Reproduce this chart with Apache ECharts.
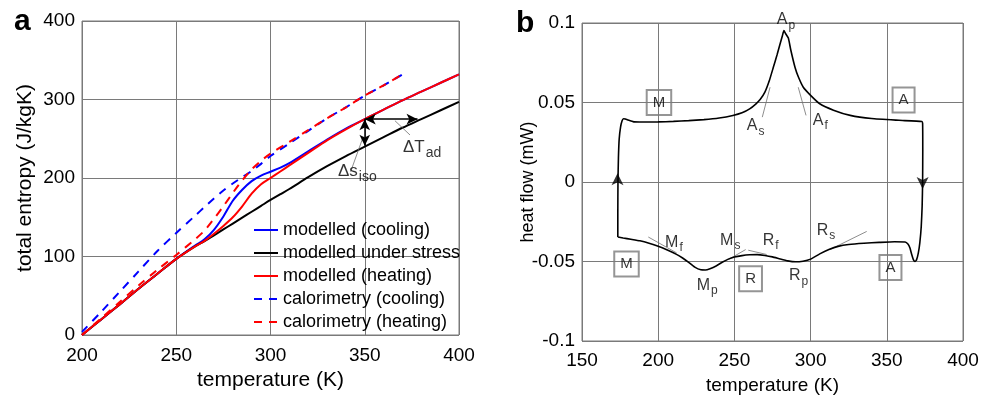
<!DOCTYPE html>
<html>
<head>
<meta charset="utf-8">
<script src="https://cdn.jsdelivr.net/npm/echarts@6/dist/echarts.min.js"></script>
<style>
html, body { margin: 0; padding: 0; background: #fff; }
#chart { width: 990px; height: 396px; }
</style>
</head>
<body>
<div id="chart"></div>
<script>
// ---------- panel a: total entropy (J/kgK) vs temperature (K) ----------
const tempModel = [200, 210, 220, 230, 240, 250, 260, 265, 270, 275, 280, 285, 290, 295, 300, 305, 310, 320, 330, 340, 350, 360, 370, 380, 390, 400];
const entropyModelCooling = [0, 19.5, 39, 59, 78, 97, 114, 122, 134, 151, 171, 185, 196, 203, 208, 213, 219, 234, 249, 263, 275, 287, 299, 310, 321, 332];
const entropyModelStress  = [0, 19.5, 39, 59, 78, 97, 113, 119.5, 127, 134.5, 142, 149.5, 157, 164.5, 172, 179, 186, 201, 215, 228, 240, 252, 264, 275, 286, 297];
const entropyModelHeating = [0, 19.5, 39, 59, 78, 97, 113, 120, 129, 139, 150, 164, 180, 192, 200, 208, 216, 232, 248, 262, 275, 287, 299, 310, 321, 332];

const tempCalorimetry = [200, 210, 220, 230, 240, 250, 260, 265, 270, 275, 280, 285, 290, 295, 300, 310, 320, 330, 340, 350, 360, 370];
const entropyCalCooling = [4, 29, 55, 81, 107, 130, 152, 163, 174, 184, 193, 201, 209, 218, 228, 244, 260, 276, 290, 305, 318, 332];
const entropyCalHeating = [0, 21, 42, 63, 83, 102, 122, 133, 148, 164, 181, 197, 211, 222, 231, 246, 261, 276, 290, 305, 318, 332];

const legendNames = ['modelled (cooling)', 'modelled under stress', 'modelled (heating)', 'calorimetry (cooling)', 'calorimetry (heating)'];

// isothermal entropy change and adiabatic temperature change at 350 K
const arrowDs = [[350, 275], [350, 241]];
const arrowDT = [[350, 275], [378, 275]];
const leaderDs = [[342.5, 208], [349.2, 252.6]];
const leaderDT = [[366, 273], [374, 254.8]];
const labelsA = [
  { pos: [335.8, 209], main: 'Δs', sub: 'iso' },
  { pos: [370.3, 239.5], main: 'ΔT', sub: 'ad' }
];

// ---------- panel b: DSC heat flow (mW) vs temperature (K) ----------
const loopTemp = [
  173.5, 173.5, 173.6, 173.9, 174.4, 175.3, 176.3, 177.2, 178.5, 180, 184, 190, 200, 210, 220, 230, 240, 249, 255, 260,
  264, 267, 270, 273, 275.5, 278, 280, 281.5, 282.5, 283.5, 285.4, 287, 289.8, 292, 295.2, 300, 306, 315, 326, 340,
  358, 373, 373.5, 373.6, 373.5, 373.2, 372.6, 371.7, 370.7, 369.5, 368.5, 367.5, 366.3, 365.2, 364, 362, 355, 345, 335, 325,
  318, 312, 306, 300, 295, 290, 285, 280, 275, 270, 265, 260, 255, 250, 246, 242, 238, 234, 231, 228,
  224, 220, 216, 212, 206, 200, 194, 188, 182, 177, 173.5
];
const loopHeatFlow = [
  -0.0346, -0.02, 0, 0.015, 0.027, 0.0345, 0.0385, 0.0398, 0.0396, 0.0390, 0.0378, 0.0377, 0.0378, 0.0381, 0.0386, 0.0392, 0.0402, 0.0418, 0.0435, 0.046,
  0.049, 0.052, 0.0565, 0.064, 0.072, 0.080, 0.087, 0.092, 0.0952, 0.0935, 0.0905, 0.083, 0.072, 0.066, 0.0596, 0.0545, 0.0492, 0.0452, 0.0419, 0.0399,
  0.0388, 0.0380, 0.0370, 0.02, 0, -0.015, -0.028, -0.038, -0.0446, -0.0490, -0.0500, -0.0490, -0.0455, -0.0415, -0.0392, -0.0377, -0.0376, -0.0380, -0.0385, -0.0393,
  -0.0405, -0.0425, -0.0452, -0.0485, -0.0498, -0.0502, -0.0496, -0.0484, -0.0471, -0.0462, -0.0457, -0.0458, -0.0463, -0.0472, -0.0485, -0.0505, -0.0528, -0.0545, -0.0553, -0.0552,
  -0.0535, -0.0505, -0.0478, -0.0455, -0.0428, -0.0404, -0.0385, -0.0370, -0.0360, -0.0352, -0.0346
];

// onset / finish / peak construction lines
const tangents = [
  [[268.3, 0.0408], [273.4, 0.0596]],   // A_s
  [[297.0, 0.0419], [291.9, 0.0596]],   // A_f
  [[193.5, -0.0346], [212.1, -0.0446]], // M_f
  [[246.0, -0.0488], [257.4, -0.0425]], // M_s
  [[259.1, -0.0429], [271.2, -0.0456]], // R_f
  [[312.7, -0.0425], [336.8, -0.0311]]  // R_s
];
const labelsB = [
  { pos: [277.8, 0.1019], main: 'A', sub: 'p' },
  { pos: [258.1, 0.0353], main: 'A', sub: 's' },
  { pos: [301.4, 0.0389], main: 'A', sub: 'f' },
  { pos: [204.5, -0.0378], main: 'M', sub: 'f' },
  { pos: [240.6, -0.0369], main: 'M', sub: 's' },
  { pos: [268.6, -0.0369], main: 'R', sub: 'f' },
  { pos: [304.0, -0.0306], main: 'R', sub: 's' },
  { pos: [225.3, -0.0650], main: 'M', sub: 'p' },
  { pos: [285.8, -0.0591], main: 'R', sub: 'p' }
];
const phaseBoxes = [
  { pos: [200.5, 0.0500], text: 'M' },
  { pos: [361.0, 0.0516], text: 'A' },
  { pos: [179.2, -0.0516], text: 'M' },
  { pos: [260.6, -0.0609], text: 'R' },
  { pos: [352.4, -0.0538], text: 'A' }
];
// direction of the temperature scan
const scanArrows = [
  { pos: [173.3, 0.0055], rotate: 0 },
  { pos: [373.5, -0.0044], rotate: 180 }
];

const FONT = '"Liberation Sans", Arial, Helvetica, sans-serif';
const GRIDCOL = '#7a7a7a';

function zip(xs, ys) { return xs.map((x, i) => [x, ys[i]]); }

function subLabelSeries(xi, yi, items, mainSize, subSize) {
  return {
    type: 'scatter', xAxisIndex: xi, yAxisIndex: yi, silent: true, z: 5, clip: false,
    symbol: 'circle', symbolSize: 1, itemStyle: { color: 'rgba(0,0,0,0)' },
    data: items.map(it => ({
      value: it.pos,
      label: { formatter: '{m|' + it.main + '}{s|' + it.sub + '}' }
    })),
    label: {
      show: true, position: 'inside', align: 'left', verticalAlign: 'top',
      offset: [0, -mainSize / 2], color: '#000', fontFamily: FONT,
      rich: {
        m: { fontSize: mainSize, lineHeight: mainSize, verticalAlign: 'top', fontFamily: FONT, color: '#000' },
        s: { fontSize: subSize, lineHeight: subSize, padding: [Math.round(mainSize * 0.7), 0, 0, 1], fontFamily: FONT, color: '#000' }
      }
    }
  };
}

function thinLine(xi, yi, pts, color, width) {
  return {
    type: 'line', xAxisIndex: xi, yAxisIndex: yi, silent: true, symbol: 'none',
    data: pts, lineStyle: { color: color, width: width }, z: 3
  };
}

function axisCommon(fontSize, nameSize, margin) {
  return {
    axisLine: { show: false },
    axisTick: { show: false },
    splitLine: { show: true, lineStyle: { color: GRIDCOL, width: 1 } },
    axisLabel: { color: '#000', fontSize: fontSize, fontFamily: FONT, margin: margin },
    nameMoveOverlap: false,
    nameTextStyle: { color: '#000', fontSize: nameSize, fontFamily: FONT }
  };
}

function entropySeries(name, xs, ys, color, dashed) {
  return {
    name: name, type: 'line', xAxisIndex: 0, yAxisIndex: 0,
    symbol: 'none', showSymbol: false, smooth: 0.3,
    data: zip(xs, ys),
    lineStyle: { color: color, width: 2, type: dashed ? [8, 7] : 'solid' },
    itemStyle: { color: color }
  };
}

const chart = echarts.init(document.getElementById('chart'), null, { renderer: 'canvas' });

const series = [
  entropySeries(legendNames[0], tempModel, entropyModelCooling, '#0000ff', false),
  entropySeries(legendNames[1], tempModel, entropyModelStress, '#000000', false),
  entropySeries(legendNames[2], tempModel, entropyModelHeating, '#ff0000', false),
  entropySeries(legendNames[3], tempCalorimetry, entropyCalCooling, '#0000ff', true),
  entropySeries(legendNames[4], tempCalorimetry, entropyCalHeating, '#ff0000', true),

  // Δs_iso and ΔT_ad double arrows
  { type: 'line', xAxisIndex: 0, yAxisIndex: 0, data: [], silent: true, z: 4,
    markLine: {
      silent: true, animation: false, symbol: ['arrow', 'arrow'], symbolSize: [8, 11],
      label: { show: false }, emphasis: { disabled: true },
      lineStyle: { color: '#000', width: 1.5, type: 'solid' },
      data: [
        [{ coord: arrowDs[0] }, { coord: arrowDs[1] }],
        [{ coord: arrowDT[0] }, { coord: arrowDT[1] }]
      ]
    } },
  thinLine(0, 0, leaderDs, '#707070', 0.8),
  thinLine(0, 0, leaderDT, '#707070', 0.8),
  subLabelSeries(0, 0, labelsA, 17, 14),

  // panel b heat-flow loop
  { type: 'line', xAxisIndex: 1, yAxisIndex: 1, symbol: 'none', smooth: 0.15, silent: true, z: 4,
    data: zip(loopTemp, loopHeatFlow), lineStyle: { color: '#000', width: 1.6 } }
];

tangents.forEach(t => series.push(thinLine(1, 1, t, '#707070', 0.8)));

series.push({
  type: 'scatter', xAxisIndex: 1, yAxisIndex: 1, silent: true, z: 6,
  symbol: 'arrow', symbolSize: [9, 12], itemStyle: { color: '#000' },
  data: scanArrows.map(a => ({ value: a.pos, symbolRotate: a.rotate }))
});

series.push(subLabelSeries(1, 1, labelsB, 16, 12));

series.push({
  type: 'scatter', xAxisIndex: 1, yAxisIndex: 1, silent: true, z: 5,
  symbol: 'circle', symbolSize: 1, itemStyle: { color: 'rgba(0,0,0,0)' },
  data: phaseBoxes.map(b => ({ value: b.pos, label: { formatter: b.text } })),
  label: {
    show: true, position: 'inside', align: 'center', verticalAlign: 'middle',
    color: '#000', fontSize: 15, lineHeight: 15, fontFamily: FONT,
    borderColor: GRIDCOL, borderWidth: 1, padding: [5, 6, 5, 6], backgroundColor: 'rgba(255,255,255,0)'
  }
});

chart.setOption({
  animation: false,
  backgroundColor: '#fff',
  textStyle: { fontFamily: FONT },
  grid: [
    { left: 82, top: 21, width: 377, height: 314, show: true, borderColor: GRIDCOL, borderWidth: 1,
      backgroundColor: 'transparent', containLabel: false, outerBoundsMode: 'none' },
    { left: 582, top: 23, width: 381, height: 318, show: true, borderColor: GRIDCOL, borderWidth: 1,
      backgroundColor: 'transparent', containLabel: false, outerBoundsMode: 'none' }
  ],
  xAxis: [
    Object.assign(axisCommon(19, 21, 11), {
      type: 'value', gridIndex: 0, min: 200, max: 400, interval: 50,
      name: 'temperature (K)', nameLocation: 'middle', nameGap: 35
    }),
    Object.assign(axisCommon(19, 19, 10), {
      type: 'value', gridIndex: 1, min: 150, max: 400, interval: 50,
      name: 'temperature (K)', nameLocation: 'middle', nameGap: 35
    })
  ],
  yAxis: [
    Object.assign(axisCommon(19, 21, 7), {
      type: 'value', gridIndex: 0, min: 0, max: 400, interval: 100,
      name: 'total entropy (J/kgK)', nameLocation: 'middle', nameGap: 46
    }),
    Object.assign(axisCommon(19, 18, 7), {
      type: 'value', gridIndex: 1, min: -0.1, max: 0.1, interval: 0.05,
      name: 'heat flow (mW)', nameLocation: 'middle', nameGap: 45,
      axisLabel: { color: '#000', fontSize: 19, fontFamily: FONT, margin: 7,
        formatter: v => String(parseFloat(v.toFixed(2))) }
    })
  ],
  legend: {
    orient: 'vertical', left: 253, top: 221, padding: 0,
    itemWidth: 24, itemHeight: 12, itemGap: 5, selectedMode: false,
    itemStyle: { opacity: 0 },
    textStyle: { color: '#000', fontSize: 18, lineHeight: 18, fontFamily: FONT },
    data: legendNames.map((n, i) => ({
      name: n,
      itemStyle: { opacity: 0 },
      lineStyle: { width: 2, type: i >= 3 ? [8, 7] : 'solid' }
    }))
  },
  graphic: [
    { type: 'text', left: 14, top: 7, style: { text: 'a', fontSize: 30, fontWeight: 'bold', fontFamily: FONT, fill: '#000' } },
    { type: 'text', left: 516, top: 9, style: { text: 'b', fontSize: 30, fontWeight: 'bold', fontFamily: FONT, fill: '#000' } }
  ],
  series: series
});
</script>
</body>
</html>
